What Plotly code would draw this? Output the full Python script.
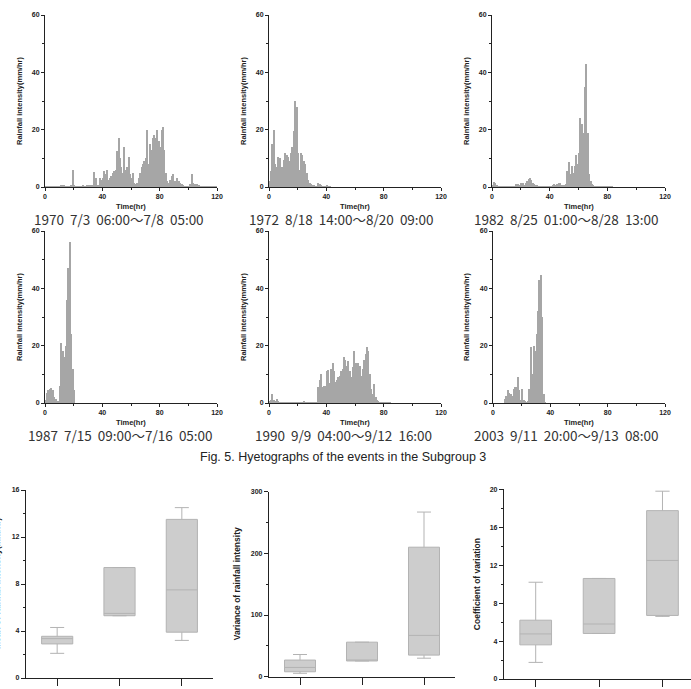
import plotly.graph_objects as go

W, H = 691, 689

# ---------------- data ----------------
e1970 = [0.2,0.2,0.2,0.2,0.2,0.2,0.2,0.2,0.2,0.3,
         0.3,0.5,0.8,0.6,0.3,0.3,0.2,0.3,0.5,6.0,
         0.5,0.3,0.2,0.2,0.2,0.3,0.5,0.3,0.2,0.5,
         0.8,0.5,0.5,0.8,5.4,3.0,0.5,0.8,3.0,2.5,
         3.0,5.6,4.5,5.8,2.5,3.0,4.0,5.0,5.5,6.0,
         12.5,17.0,10.0,7.0,5.0,14.0,6.0,7.0,10.5,4.5,
         3.0,5.0,1.5,1.0,1.5,3.0,5.0,7.0,8.0,9.0,
         10.0,20.0,8.0,15.0,13.0,17.0,18.0,17.0,20.0,16.0,
         14.0,20.0,21.0,13.0,5.0,2.0,1.5,2.5,4.0,4.5,
         2.0,1.0,3.0,2.0,1.5,1.0,0.5,0.3,0.3,0.3,
         0.3,1.0,4.5,1.5,1.0,1.2,1.0,0.5,0.3,0.2,
         0.2,0.2,0.2,0.2,0.2,0.1,0.1,0.1,0.1,0.1]
e1972 = [2,5.5,15,20,8,7,10.5,10,6.5,7,
         9.5,12,11,10.5,9,12,14,19.5,30,28,
         12,6,12,11,9,8,5,2.5,1.5,1,
         0.8,0.5,0.3,0.3,1.5,1,0.5,0.3,0.3,0.3,
         0.5,0.2,0.2]
e1982 = [0.5,1.8,1.5,0.5,0.3,0.3,0.3,0.3,0.3,0.3,
         0.3,0.3,0.3,0.3,0.3,0.3,1.0,1.2,1.0,0.5,
         1.5,1.5,0.5,1.5,2.0,2.8,3.0,2.5,1.5,1.0,
         0.7,0.5,0.3,0.3,0.3,0.3,0.3,0.3,0.3,0.3,
         0.3,0.3,0.5,1.0,0.8,1.0,1.5,1.3,0.8,0.5,
         0.5,1.0,5.5,8.8,4.5,7.5,5.0,7.5,11.0,8.0,
         12.0,24.0,22.0,19.0,35.0,43.0,19.0,4.5,2.0,1.0,
         0.5,0.3,0.2,0.2,0.2,0.2,0.2,0.2,0.2,0.2,
         0.2,0.2,0.2,0.2]
e1987 = [1,3.5,4.5,5,5.3,4.5,2,1.5,0.8,0.7,
         6,21,18,16,20,36,47,56,24,12,4.5]
e1990 = [0.5,1,3,1,0.5,1.5,0.5,0.2,0.2,0.2,
         0.2,0.2,0.2,0.2,0.2,0.2,0.2,0.2,0.3,0.2,
         0.2,0.2,0.3,0.2,0.5,0.2,0.2,0.2,0.2,0.3,
         0.2,0.2,0.2,0.3,5.5,8,10,5.5,6,6,
         11,11.5,7,12,14,11,7.5,8,9,9.5,
         11,12,16,15,13,14.5,11,9,12.5,18,
         14,10,14,13,9.5,12,15,17,19.5,18,
         10,5,3,6.5,2,1,0.5,0.2,0.2,0.2,
         0.2,0.2,0.2,0.2,0.2]
e2003 = [0,0,0,0,0,0,0,0,1.5,2.5,
         4.5,3.5,3,2.5,5,5.5,5.5,9,4.5,1,
         5,1,0.5,0.3,0.5,5,19.5,10,20,18,
         24,32,43,44.5,30,3,0.3]

events = [e1970, e1972, e1982, e1987, e1990, e2003]
captions = ["1970  7/3  06:00～7/8  05:00",
            "1972  8/18  14:00～8/20  09:00",
            "1982  8/25  01:00～8/28  13:00",
            "1987  7/15  09:00～7/16  05:00",
            "1990  9/9  04:00～9/12  16:00",
            "2003  9/11  20:00～9/13  08:00"]

groups = ["Subgroup 1", "Subgroup 2", "Subgroup 3"]
# box statistics: lower whisker, q1, median, q3, upper whisker
mean_low = [2.1, 5.3, 3.2]
mean_q1 = [2.9, 5.3, 3.9]
mean_med = [3.35, 5.5, 7.5]
mean_q3 = [3.55, 9.4, 13.5]
mean_high = [4.3, 9.4, 14.5]

var_low = [5.5, 25.5, 30]
var_q1 = [8, 25.5, 35]
var_med = [15, 26, 67]
var_q3 = [27, 56, 210]
var_high = [36, 56, 267]

cv_low = [1.75, 4.8, 6.6]
cv_q1 = [3.6, 4.8, 6.7]
cv_med = [4.75, 5.8, 12.5]
cv_q3 = [6.2, 10.6, 17.75]
cv_high = [10.2, 10.6, 19.8]

# ---------------- layout helpers ----------------
def fx(px):
    return px / W

def fy(py):
    return 1 - py / H

NB = "\u00a0"
BAR = "#a6a6a6"
AX = "#222222"
TICKFONT = dict(family="Liberation Sans, Arial", size=7, color="#222", weight="bold")

hy_boxes = [  # x0, x1, ytop, ybottom (pixels)
    (45, 217, 15, 187), (269, 441, 15, 187), (492, 665, 15, 187),
    (45, 217, 231, 403), (269, 441, 231, 403), (493, 665, 231, 403)]
ytitle_x = [20, 244, 467, 20, 244, 467]
cap_x = [119, 341, 566, 120, 343, 566]

fig = go.Figure()
layout = dict(template="none", width=W, height=H,
              margin=dict(l=0, r=0, t=0, b=0, autoexpand=False),
              paper_bgcolor="white", plot_bgcolor="white", showlegend=False,
              bargap=0, boxmode="overlay")
annotations = []

def ann(text, x, y, font, angle=0):
    return dict(text=text, textangle=angle, x=fx(x), y=fy(y), xref="paper",
                yref="paper", xanchor="center", yanchor="middle",
                showarrow=False, font=font)

for k, (ev, (x0, x1, yt, yb)) in enumerate(zip(events, hy_boxes)):
    n = k + 1
    xa = "x" if n == 1 else f"x{n}"
    ya = "y" if n == 1 else f"y{n}"
    fig.add_trace(go.Bar(x=[i + 0.5 for i in range(len(ev))], y=ev, width=1,
                         marker=dict(color=BAR, line=dict(width=0)),
                         xaxis=xa, yaxis=ya))
    xkey = "xaxis" if n == 1 else f"xaxis{n}"
    ykey = "yaxis" if n == 1 else f"yaxis{n}"
    layout[xkey] = dict(domain=[fx(x0), fx(x1)], range=[0, 120], anchor=ya,
                        automargin=False,
                        showgrid=False, zeroline=False, showline=True,
                        linecolor=AX, linewidth=1, ticks="outside", ticklen=3,
                        tickcolor=AX, tickvals=[0, 40, 80, 120], tickfont=TICKFONT,
                        minor=dict(tickvals=[20, 60, 100], ticks="outside",
                                   ticklen=2, tickcolor=AX),
                        fixedrange=True)
    layout[ykey] = dict(domain=[fy(yb), fy(yt)], range=[0, 60], anchor=xa,
                        automargin=False,
                        showgrid=False, zeroline=False, showline=True,
                        linecolor=AX, linewidth=1, ticks="outside", ticklen=3,
                        tickcolor=AX, tickvals=[0, 20, 40, 60], tickfont=TICKFONT,
                        minor=dict(tickvals=[10, 30, 50], ticks="outside",
                                   ticklen=2, tickcolor=AX),
                        fixedrange=True)
    bold7 = dict(family="Liberation Sans, Arial", size=7.5, color="#222", weight="bold")
    annotations.append(ann("Rainfall intensity(mm/hr)", ytitle_x[k], (yt + yb) / 2,
                           bold7, -90))
    annotations.append(ann("Time(hr)", (x0 + x1) / 2, yb + 20, bold7))
    annotations.append(ann(captions[k].replace(" ", NB), cap_x[k], yb + 32,
                           dict(family="Noto Sans CJK KR, Noto Sans, sans-serif",
                                size=13.5, color="#333")))

annotations.append(ann("Fig. 5. Hyetographs of the events in the Subgroup 3", 343, 457,
                       dict(family="Liberation Sans, Arial", size=12.5, color="#222")))

# ---------------- box plots ----------------
box_panels = [
    (mean_low, mean_q1, mean_med, mean_q3, mean_high, (26, 213, 490, 678),
     [0, 16], [0, 4, 8, 12, 16], [2, 6, 10, 14], [-0.5, 2.5],
     "Mean of rainfall intensity(mm/hr)", -3),
    (var_low, var_q1, var_med, var_q3, var_high, (269, 455, 491.7, 676.7),
     [0, 300], [0, 100, 200, 300], [50, 150, 250], [-0.5, 2.5],
     "Variance of rainfall intensity", 237),
    (cv_low, cv_q1, cv_med, cv_q3, cv_high, (504, 691, 489.3, 679),
     [0, 20], [0, 4, 8, 12, 16, 20], [2, 6, 10, 14, 18], [-0.5, 2.45],
     "Coefficient of variation", 477),
]
for j, (lo, q1, md, q3, hi, (x0, x1, yt, yb), yr, yt_major, yt_minor, xr,
        title, tx) in enumerate(box_panels):
    n = 7 + j
    xa, ya = f"x{n}", f"y{n}"
    fig.add_trace(go.Box(x=[0, 1, 2], q1=q1, median=md, q3=q3, lowerfence=lo,
                         upperfence=hi, width=0.5, whiskerwidth=0.45,
                         fillcolor="#cdcdcd", line=dict(color="#b3b3b3", width=1),
                         boxpoints=False, xaxis=xa, yaxis=ya, hoverinfo="skip"))
    layout[f"xaxis{n}"] = dict(domain=[fx(x0), fx(x1)], range=xr, anchor=ya,
                               automargin=False,
                               showgrid=False, zeroline=False, showline=True,
                               linecolor=AX, linewidth=1.2, ticks="outside",
                               ticklen=7, tickcolor=AX, tickvals=[0, 1, 2],
                               ticktext=groups,
                               tickfont=dict(family="Liberation Sans, Arial",
                                             size=8, color="#222", weight="bold"),
                               fixedrange=True)
    layout[f"yaxis{n}"] = dict(domain=[fy(yb), fy(yt)], range=yr, anchor=xa,
                               automargin=False,
                               showgrid=False, zeroline=False, showline=True,
                               linecolor=AX, linewidth=1.2, ticks="outside",
                               ticklen=4, tickcolor=AX, tickvals=yt_major,
                               tickfont=TICKFONT,
                               minor=dict(tickvals=yt_minor, ticks="outside",
                                          ticklen=2, tickcolor=AX),
                               fixedrange=True)
    annotations.append(ann(title, tx, (yt + yb) / 2,
                           dict(family="Liberation Sans, Arial", size=8.5,
                                color="#222", weight="bold"), -90))

layout["annotations"] = annotations
fig.update_layout(**layout)
fig.write_html("out.html")
